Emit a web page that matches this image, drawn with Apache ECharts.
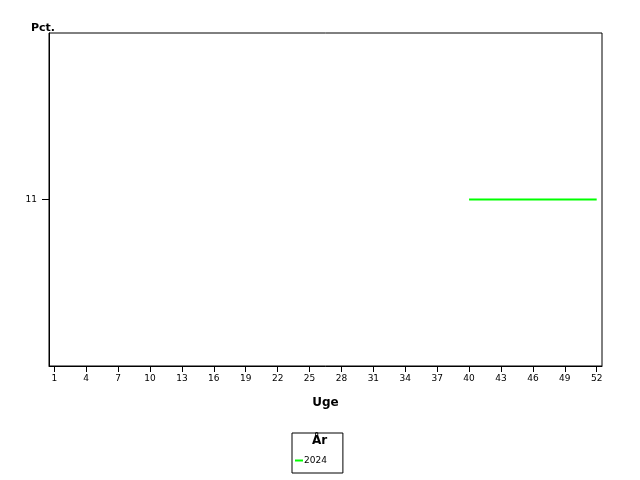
<!DOCTYPE html>
<html><head><meta charset="utf-8">
<script src="https://cdn.jsdelivr.net/npm/echarts@6/dist/echarts.min.js"></script>
<style>html,body{margin:0;padding:0;background:#fff}#c{width:640px;height:480px}</style>
</head><body><div id="c"></div>
<script>
const weeks = Array.from({length: 52}, (_, i) => String(i + 1));
const seriesName = '2024';
const values2024 = weeks.map(w => (+w >= 40 ? 11 : null));
const yTicks = [11];
const chart = echarts.init(document.getElementById('c'), null, {renderer: 'canvas'});
const font = 'DejaVu Sans';
chart.setOption({
  animation: false,
  backgroundColor: '#fff',
  grid: {left: 49, top: 33, right: 38, bottom: 114, show: true, borderColor: '#000', borderWidth: 1, backgroundColor: 'transparent'},
  xAxis: {
    type: 'category', data: weeks, boundaryGap: true,
    name: 'Uge', nameLocation: 'middle', nameGap: 31,
    nameTextStyle: {fontFamily: font, fontWeight: 'bold', fontSize: 12, color: '#000'},
    axisLine: {show: true, lineStyle: {color: '#000'}},
    axisTick: {show: true, alignWithLabel: true, interval: 2, length: 6, lineStyle: {color: '#000'}},
    axisLabel: {interval: 2, fontFamily: font, fontSize: 9, color: '#000', margin: 8},
    splitLine: {show: false}
  },
  yAxis: {
    type: 'value', min: 10, max: 12,
    name: 'Pct.', nameLocation: 'end', nameGap: -1,
    nameTextStyle: {fontFamily: font, fontWeight: 'bold', fontSize: 11, color: '#000', align: 'right', padding: [0, -6, 0, 0]},
    axisLine: {show: true, lineStyle: {color: '#000'}},
    axisTick: {show: true, length: 7, customValues: yTicks, lineStyle: {color: '#000'}},
    axisLabel: {customValues: yTicks, fontFamily: font, fontSize: 9, color: '#000', margin: 12},
    splitLine: {show: false}
  },
  legend: {
    left: 292, top: 433,
    data: [{name: seriesName, icon: 'rect'}],
    itemWidth: 8, itemHeight: 2, itemGap: 5,
    borderColor: '#000', borderWidth: 1, borderRadius: 0,
    padding: [23, 16, 8, 3],
    textStyle: {fontFamily: font, fontSize: 9, color: '#000', padding: [3, 0, 0, -4]}
  },
  graphic: [{type: 'text', left: 312, top: 435, style: {text: 'År', font: 'bold 12px "DejaVu Sans"', fill: '#000'}}],
  series: [{
    name: seriesName, type: 'line', data: values2024,
    showSymbol: false, symbol: 'none', connectNulls: false,
    lineStyle: {color: '#00ff00', width: 2}, itemStyle: {color: '#00ff00'}
  }]
});
</script></body></html>
